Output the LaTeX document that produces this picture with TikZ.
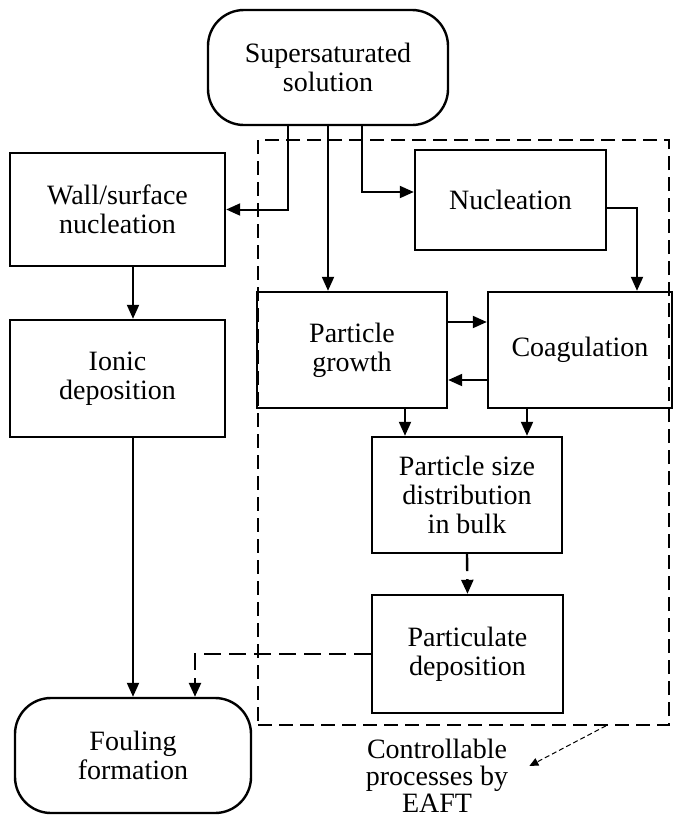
\documentclass[tikz,border=0pt]{standalone}
\usepackage{fontspec}
\setmainfont{Liberation Serif}
\usetikzlibrary{arrows.meta,calc}
\begin{document}
\begin{tikzpicture}[x=1pt,y=-1pt,
 box/.style={draw,line width=2.4pt,inner sep=0pt,align=center,font=\fontsize{28}{29}\selectfont},
 rbox/.style={box,rounded corners=36pt},
 conn/.style={line width=2pt,-{Triangle[length=14pt,width=12pt]}},
 dconn/.style={conn,line width=2.4pt,dash pattern=on 17pt off 8pt},
 region/.style={draw,line width=1.6pt,dash pattern=on 14pt off 7pt,inner sep=0pt},
 note/.style={line width=1pt,dash pattern=on 5pt off 3pt,-{Triangle[length=9pt,width=8pt]}},
 txt/.style={inner sep=0pt,align=center,font=\fontsize{28}{27}\selectfont}
]
\useasboundingbox (0,0) rectangle (679,823);
\node[region,minimum width=411pt,minimum height=585pt] (zone) at (463.5,432.5) {};
\node[rbox,minimum width=240pt,minimum height=115pt] (ss) at (328,67.5) {Supersaturated\\solution};
\node[box,minimum width=215pt,minimum height=113pt] (wall) at (117.5,209.5) {Wall/surface\\nucleation};
\node[box,minimum width=215pt,minimum height=117pt] (ionic) at (117.5,378.5) {Ionic\\deposition};
\node[box,minimum width=191pt,minimum height=100pt] (nuc) at (510.5,200) {Nucleation};
\node[box,minimum width=190pt,minimum height=116pt] (pg) at (352,350) {Particle\\growth};
\node[box,minimum width=184pt,minimum height=116pt] (coag) at (580,350) {Coagulation};
\node[box,minimum width=190pt,minimum height=116pt] (psd) at (467,495) {Particle size\\distribution\\in bulk};
\node[box,minimum width=191pt,minimum height=118pt] (pd) at (467.5,654) {Particulate\\deposition};
\node[rbox,minimum width=236pt,minimum height=115pt] (foul) at (133,755.5) {Fouling\\formation};
\node[txt] (ctrl) at (437,776) {Controllable\\processes by\\EAFT};
\coordinate (tip) at ($(ctrl.east)+(21,-10)$);

\draw[conn] ([xshift=-40pt]ss.south) |- (wall.east);
\draw[conn] (ss.south) -- (ss.south |- pg.north);
\draw[conn] ([xshift=34pt]ss.south) |- ([yshift=8pt]nuc.west);
\draw[conn] ([yshift=-8pt]nuc.east) -| ([xshift=57pt]coag.north);
\draw[conn] ([yshift=28pt]pg.east) -- ([yshift=28pt]pg.east -| coag.west);
\draw[conn] ([yshift=-30pt]coag.west) -- ([yshift=-30pt]coag.west -| pg.east);
\draw[conn] ([xshift=53pt]pg.south) -- ([xshift=53pt]pg.south |- psd.north);
\draw[conn] ([xshift=-53pt]coag.south) -- ([xshift=-53pt]coag.south |- psd.north);
\draw[dconn] (psd.south) -- (pd.north);
\draw[dconn] (pd.west) -| ([xshift=62pt]foul.north);
\draw[conn] (wall.south -| foul.north) -- (ionic.north -| foul.north);
\draw[conn] (ionic.south -| foul.north) -- (foul.north);
\draw[note] (zone.south -| 606,0) -- (tip);
\end{tikzpicture}
\end{document}
